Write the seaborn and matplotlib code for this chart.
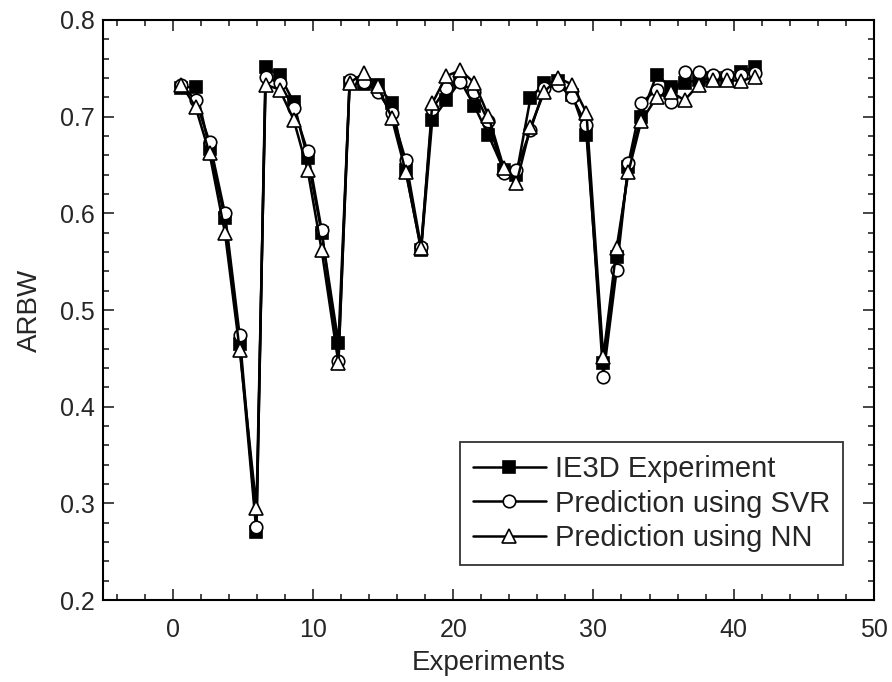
import matplotlib
matplotlib.use("Agg")
import matplotlib.pyplot as plt
from matplotlib.ticker import MultipleLocator
import pandas as pd
import seaborn as sns

sns.set_style("ticks")
plt.rcParams['font.family'] = ['Liberation Sans', 'DejaVu Sans']

# experiment positions
experiments = [0.6, 1.6, 2.6, 3.7, 4.75, 5.95,
               6.6, 7.6, 8.6, 9.6, 10.6, 11.8,
               12.6, 13.6, 14.6, 15.6, 16.6, 17.7,
               18.5, 19.5, 20.5, 21.5, 22.5, 23.6, 24.5,
               25.5, 26.5, 27.5, 28.5, 29.5,
               30.7, 31.65, 32.5, 33.4, 34.5, 35.5, 36.5, 37.5,
               38.5, 39.5, 40.5, 41.5]

ie3d = [0.730, 0.731, 0.667, 0.595, 0.465, 0.270,
        0.751, 0.743, 0.715, 0.657, 0.580, 0.466,
        0.735, 0.734, 0.733, 0.714, 0.645, 0.562,
        0.697, 0.717, 0.737, 0.711, 0.681, 0.645, 0.640,
        0.719, 0.735, 0.737, 0.722, 0.681,
        0.445, 0.555, 0.648, 0.700, 0.743, 0.731, 0.735, 0.738,
        0.740, 0.740, 0.746, 0.751]

svr = [0.733, 0.717, 0.674, 0.600, 0.474, 0.276,
       0.741, 0.735, 0.709, 0.664, 0.583, 0.447,
       0.738, 0.736, 0.726, 0.704, 0.655, 0.565,
       0.708, 0.730, 0.736, 0.725, 0.695, 0.642, 0.645,
       0.686, 0.730, 0.733, 0.720, 0.691,
       0.431, 0.541, 0.652, 0.714, 0.728, 0.715, 0.746, 0.746,
       0.743, 0.743, 0.743, 0.745]

nn = [0.733, 0.710, 0.662, 0.580, 0.459, 0.295,
      0.733, 0.728, 0.697, 0.645, 0.562, 0.445,
      0.735, 0.745, 0.732, 0.699, 0.643, 0.564,
      0.714, 0.742, 0.748, 0.735, 0.701, 0.647, 0.631,
      0.689, 0.726, 0.740, 0.733, 0.704,
      0.451, 0.564, 0.643, 0.695, 0.720, 0.726, 0.717, 0.733,
      0.738, 0.738, 0.737, 0.741]

series_names = ["IE3D Experiment", "Prediction using SVR", "Prediction using NN"]

df = pd.DataFrame({"Experiments": experiments,
                   series_names[0]: ie3d,
                   series_names[1]: svr,
                   series_names[2]: nn})

fig = plt.figure(figsize=(8.92, 6.82), dpi=100)
ax = fig.add_axes([0.1155, 0.1202, 0.864, 0.8505])

styles = {
    series_names[0]: dict(marker="s", markerfacecolor="black", markersize=8),
    series_names[1]: dict(marker="o", markerfacecolor="white", markersize=9),
    series_names[2]: dict(marker="^", markerfacecolor="white", markersize=10),
}
for name in series_names:
    sns.lineplot(data=df, x="Experiments", y=name, ax=ax, color="black",
                 linewidth=1.8, markeredgecolor="black", markeredgewidth=1.2,
                 label=name, **styles[name])

ax.set_xlim(-5, 50)
ax.set_ylim(0.2, 0.8)
ax.xaxis.set_major_locator(MultipleLocator(10))
ax.xaxis.set_minor_locator(MultipleLocator(2))
ax.yaxis.set_major_locator(MultipleLocator(0.1))
ax.yaxis.set_minor_locator(MultipleLocator(0.02))
ax.tick_params(which="both", direction="in", top=True, right=True,
               labelsize=18, width=1.2)
ax.tick_params(axis="x", pad=13)
ax.tick_params(axis="y", pad=6)
ax.tick_params(which="major", length=8)
ax.tick_params(which="minor", length=4)
for s in ax.spines.values():
    s.set_linewidth(1.5)
    s.set_color("black")

ax.set_xlabel("Experiments", fontsize=20, labelpad=6)
ax.set_ylabel("ARBW", fontsize=20, labelpad=12)

leg = ax.legend(loc="lower right", bbox_to_anchor=(0.96, 0.060), fontsize=21,
                frameon=True, fancybox=False, edgecolor="black",
                handlelength=2.5, handletextpad=0.3, borderpad=0.45,
                borderaxespad=0, labelspacing=0.22)
leg.get_frame().set_linewidth(1.3)

fig.savefig("out.png", dpi=100)
